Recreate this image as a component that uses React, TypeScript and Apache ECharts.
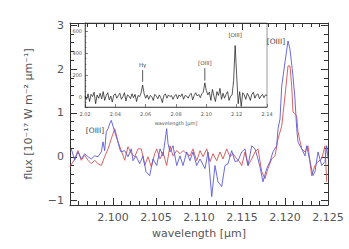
import React, { useEffect, useRef } from 'react';
import * as echarts from 'echarts';

// Main panel spectra: [wavelength (μm), flux (1e-17 W m^-2 μm^-1)]
const blueSpec: [number, number][] = [
  [2.09515, 0.18], [2.09555, -0.08], [2.09593, 0.11], [2.09631, -0.05], [2.09671, 0.07], [2.09709, 0.0],
  [2.09748, -0.05], [2.09787, 0.02], [2.09826, 0.0], [2.09864, 0.11], [2.09884, 0.34], [2.09903, 0.14],
  [2.09922, 0.57], [2.09942, 0.64], [2.09962, 0.75], [2.0998, 0.83], [2.1002, 0.57], [2.10058, 0.34],
  [2.10078, 0.18], [2.10093, 0.11], [2.10136, 0.14], [2.10174, 0.0], [2.10213, 0.18], [2.10233, -0.09],
  [2.10267, 0.02], [2.1031, -0.16], [2.10349, 0.02], [2.10384, -0.34], [2.10427, -0.43], [2.10465, -0.05],
  [2.10508, -0.2], [2.10547, 0.18], [2.10581, 0.02], [2.10624, 0.64], [2.1064, 0.3], [2.10663, 0.11],
  [2.10698, 0.25], [2.10741, -0.2], [2.10779, 0.02], [2.10814, -0.2], [2.10857, 0.11], [2.10895, -0.09],
  [2.1093, 0.11], [2.10973, -0.2], [2.11012, -0.05], [2.1107, -0.27], [2.11105, 0.11], [2.11148, -0.91],
  [2.11186, -0.2], [2.11221, -0.57], [2.11264, -0.68], [2.11302, -0.2], [2.11337, -0.16], [2.1138, 0.14],
  [2.11419, -0.11], [2.11453, -0.09], [2.11497, 0.11], [2.11535, 0.18], [2.1157, -0.2], [2.11613, 0.25],
  [2.11651, 0.18], [2.11686, -0.05], [2.11709, -0.23], [2.11744, -0.57], [2.11787, -0.27], [2.11826, -0.11],
  [2.1186, 0.11], [2.11903, 0.25], [2.11919, 0.64], [2.11942, 0.86], [2.11962, 1.61], [2.12, 2.16],
  [2.12035, 2.64], [2.12058, 2.45], [2.12093, 1.84], [2.12116, 1.32], [2.12136, 0.64], [2.12151, 0.34],
  [2.12194, 0.18], [2.12233, 0.02], [2.12252, 0.25], [2.12291, -0.11], [2.12326, -0.43], [2.12349, -0.34],
  [2.12384, 0.11], [2.12427, -0.2], [2.12465, -0.11], [2.12485, 0.25], [2.125, -0.05],
];

const redSpec: [number, number][] = [
  [2.095, -0.23], [2.09555, -0.05], [2.09593, 0.14], [2.09631, -0.08], [2.09671, 0.03], [2.09709, -0.08],
  [2.09748, -0.16], [2.09787, -0.08], [2.09826, -0.16], [2.09864, -0.2], [2.09903, 0.0], [2.09942, 0.18],
  [2.0998, 0.41], [2.1002, 0.64], [2.10058, 0.34], [2.10096, 0.14], [2.10136, -0.08], [2.10174, 0.23],
  [2.10213, 0.07], [2.10252, 0.0], [2.10291, 0.18], [2.10329, 0.18], [2.10369, -0.2], [2.10407, 0.0],
  [2.10446, -0.23], [2.10485, 0.07], [2.10508, 0.18], [2.10547, -0.05], [2.10581, 0.11], [2.10624, -0.2],
  [2.10663, 0.25], [2.10698, 0.02], [2.10741, 0.14], [2.10779, 0.07], [2.10814, 0.14], [2.10857, 0.07],
  [2.10895, 0.02], [2.1093, 0.18], [2.10973, -0.09], [2.11012, 0.14], [2.11047, 0.0], [2.1109, 0.18],
  [2.11128, -0.11], [2.11163, 0.07], [2.11206, -0.09], [2.11244, 0.11], [2.11279, -0.05], [2.11322, 0.18],
  [2.1136, 0.0], [2.11395, 0.07], [2.11438, -0.05], [2.11462, -0.09], [2.11497, -0.2], [2.11535, 0.11],
  [2.1157, -0.2], [2.11613, -0.05], [2.11651, 0.11], [2.11686, 0.18], [2.11729, -0.34], [2.11767, -0.5],
  [2.11802, -0.27], [2.11845, -0.05], [2.11884, 0.02], [2.11919, 0.41], [2.11962, 0.7], [2.12, 1.39],
  [2.12035, 2.07], [2.12058, 2.07], [2.12078, 1.61], [2.12093, 1.02], [2.12136, 0.93], [2.12151, 0.57],
  [2.12194, 0.18], [2.12233, 0.11], [2.12267, 0.25], [2.1231, -0.43], [2.12349, -0.2], [2.12384, -0.11],
  [2.12427, -0.05], [2.12465, 0.25], [2.12485, -0.57],
];

// Inset spectrum sampled on a regular wavelength grid
const insetStart = 2.02;
const insetStep = 0.001;
const insetFlux = [
  10, -20, 30, -40, 25, 5, 45, -60, 20, -10, 35, -15, 50, -30, 15, 40, -25, 10, -45, 20,
  30, -10, 15, 35, -20, 5, 40, -35, 20, 10, -15, 30, -5, 25, -40, 15, 5, 40, 110, 30,
  -10, 20, -20, 15, 5, -30, 25, 10, -15, 20, -5, -50, 15, 30, -10, 20, 5, 15, -20, 10,
  25, -15, 20, 5, 30, -20, 15, 10, -10, 20, 35, -25, 15, 40, 10, 25, -5, 30, 45, 130,
  60, 20, 45, -30, 70, 10, -40, 50, 15, 80, -20, 35, -10, 25, 50, -30, 10, 20, 150, 470,
  200, -60, 50, -85, 40, 20, -20, 35, 10, -30, 25, 45, -10, 20, 30, -15, 10, 25, -5, 20, 15,
];

// Line identifications
const insetLines = [
  { name: 'Hγ', wl: 2.058, from: 140, to: 246, labelY: 292 },
  { name: '[OIII]', wl: 2.099, from: 150, to: 264, labelY: 310 },
];
const insetStrongLabel = { name: '[OIII]', wl: 2.119, y: 565 };
const mainLabels = [
  { name: '[OIII]', wl: 2.11895, y: 2.62 },
  { name: '[OIII]', wl: 2.09791, y: 0.61 },
];

const mainX = { min: 2.095, max: 2.125, interval: 0.005 };
const mainY = { min: -1.1, max: 3.05 };
const insetX = { min: 2.02, max: 2.14, interval: 0.02 };
const insetY = { min: -90, max: 675 };

const textColor = '#555';
const axisColor = '#333';
const fontFamily = 'DejaVu Sans';

export default function App() {
  const ref = useRef<HTMLDivElement>(null);
  useEffect(() => {
    const chart = echarts.init(ref.current!, null, { renderer: 'svg' });
    const insetData = insetFlux.map((v, i) => [+(insetStart + i * insetStep).toFixed(4), v]);

    const mainAxisCommon = {
      axisLine: { show: true, onZero: false, lineStyle: { color: axisColor, width: 1 } },
      axisTick: { show: true, inside: true, length: 7, lineStyle: { color: axisColor, width: 1 } },
      minorTick: { show: true, splitNumber: 5, length: 4, lineStyle: { color: axisColor, width: 1 } },
      splitLine: { show: false },
    };
    const insetAxisCommon = {
      axisLine: { show: true, onZero: false, lineStyle: { color: '#333', width: 0.7 } },
      axisTick: { show: true, inside: true, length: 3, lineStyle: { color: '#333', width: 0.6 } },
      splitLine: { show: false },
    };

    const option: any = {
      animation: false,
      backgroundColor: '#fff',
      grid: [
        { left: 70, top: 23, width: 258, height: 182 },
        { left: 85, top: 23, width: 182, height: 84, show: true, backgroundColor: '#fff', borderWidth: 0.6, borderColor: '#555' },
      ],
      xAxis: [
        {
          gridIndex: 0, type: 'value', ...mainX, position: 'bottom', ...mainAxisCommon,
          axisLabel: { formatter: (v: number) => v.toFixed(3), showMinLabel: false, color: textColor, fontSize: 11, margin: 7, fontFamily },
          name: 'wavelength [μm]', nameLocation: 'middle', nameGap: 23,
          nameTextStyle: { color: textColor, fontSize: 11, fontFamily },
        },
        {
          gridIndex: 0, type: 'value', ...mainX, position: 'top', ...mainAxisCommon,
          axisLabel: { show: false },
        },
        {
          gridIndex: 1, type: 'value', ...insetX, position: 'bottom', ...insetAxisCommon,
          minorTick: { show: false },
          axisLabel: { formatter: (v: number) => v.toFixed(2), color: textColor, fontSize: 5, margin: 4, fontFamily },
          name: 'wavelength [μm]', nameLocation: 'middle', nameGap: 13,
          nameTextStyle: { color: textColor, fontSize: 5, fontFamily },
        },
      ],
      yAxis: [
        {
          gridIndex: 0, type: 'value', ...mainY, splitNumber: 4, position: 'left', ...mainAxisCommon,
          axisLabel: {
            formatter: (v: number) => (v < 0 ? '−' + Math.abs(v) : String(v)),
            showMinLabel: false, showMaxLabel: false, color: textColor, fontSize: 11, margin: 6, fontFamily,
          },
          name: 'flux [10⁻¹⁷ W m⁻² μm⁻¹]', nameLocation: 'middle', nameGap: 36,
          nameTextStyle: { color: textColor, fontSize: 11, fontFamily },
        },
        {
          gridIndex: 0, type: 'value', ...mainY, splitNumber: 4, position: 'right', ...mainAxisCommon,
          axisLabel: { show: false },
        },
        {
          gridIndex: 1, type: 'value', ...insetY, splitNumber: 4, position: 'left', ...insetAxisCommon,
          minorTick: { show: true, splitNumber: 4, length: 1.5, lineStyle: { color: '#333', width: 0.5 } },
          axisLabel: { showMinLabel: false, showMaxLabel: false, color: textColor, fontSize: 5, margin: 3, fontFamily },
        },
      ],
      series: [
        {
          type: 'line', name: 'red', xAxisIndex: 0, yAxisIndex: 0, data: redSpec, symbol: 'none', clip: false,
          lineStyle: { color: '#d65050', width: 0.9 }, itemStyle: { color: '#d65050' },
        },
        {
          type: 'line', name: 'blue', xAxisIndex: 0, yAxisIndex: 0, data: blueSpec, symbol: 'none', clip: false,
          lineStyle: { color: '#5a5ad8', width: 0.9 }, itemStyle: { color: '#5a5ad8' },
        },
        {
          type: 'line', name: 'inset', xAxisIndex: 2, yAxisIndex: 2, data: insetData, symbol: 'none', clip: false,
          lineStyle: { color: '#111', width: 0.7 }, itemStyle: { color: '#111' },
        },
        ...insetLines.map((l) => ({
          type: 'line', name: 'id-' + l.name, xAxisIndex: 2, yAxisIndex: 2, symbol: 'none', silent: true, clip: false,
          data: [[l.wl, l.from], [l.wl, l.to]],
          lineStyle: { color: '#111', width: 0.7 }, itemStyle: { color: '#111' },
        })),
      ],
    };
    chart.setOption(option);

    // Place the line-identification texts through the chart's own axes
    const texts: any[] = [];
    const addText = (name: string, pos: number[] | null, size: number) => {
      if (!pos) return;
      texts.push({
        type: 'text', x: pos[0], y: pos[1], z: 100, silent: true,
        style: { text: name, fill: '#444', font: `${size}px "${fontFamily}"`, align: 'center', verticalAlign: 'middle' },
      });
    };
    mainLabels.forEach((l) => addText(l.name, chart.convertToPixel({ xAxisIndex: 0, yAxisIndex: 0 }, [l.wl, l.y]) as any, 7.5));
    insetLines.forEach((l) => addText(l.name, chart.convertToPixel({ xAxisIndex: 2, yAxisIndex: 2 }, [l.wl, l.labelY]) as any, 5.5));
    addText(insetStrongLabel.name, chart.convertToPixel({ xAxisIndex: 2, yAxisIndex: 2 }, [insetStrongLabel.wl, insetStrongLabel.y]) as any, 5.5);
    chart.setOption({ graphic: texts });

    return () => chart.dispose();
  }, []);
  return <div ref={ref} style={{ position: 'fixed', left: 0, top: 0, width: 349, height: 249 }} />;
}
